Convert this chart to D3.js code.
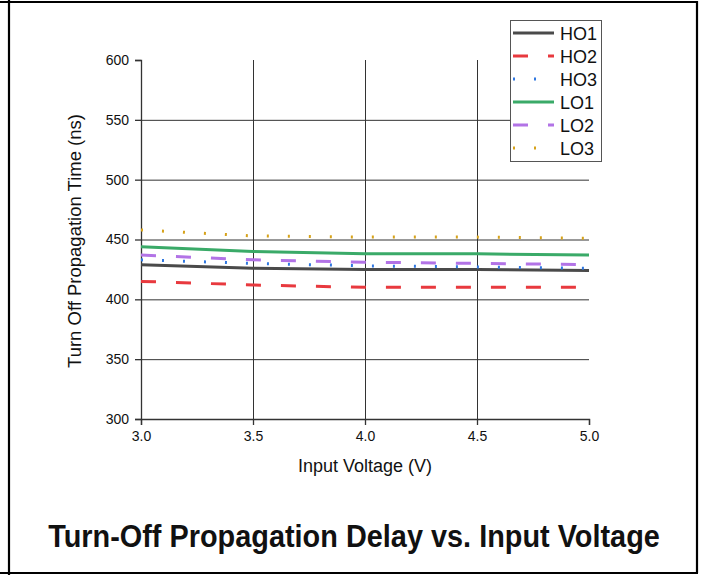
<!DOCTYPE html>
<html><head><meta charset="utf-8">
<script src="https://cdn.jsdelivr.net/npm/d3@7"></script>
<style>body{margin:0;background:#fff}svg{display:block}</style>
</head><body><svg id="c" width="701" height="575"></svg>
<script>
const voltages = [3.0, 3.5, 4.0, 4.5, 5.0];
const HO1 = [429, 426, 425, 425, 424];
const HO2 = [415, 412, 410, 410, 410];
const HO3 = [433, 430, 428, 427, 426];
const LO1 = [444, 440, 438, 438, 437];
const LO2 = [437, 433, 431, 430, 429];
const LO3 = [458, 453, 452, 452, 451];
const xTicks = [3.0, 3.5, 4.0, 4.5, 5.0];
const yTicks = [300, 350, 400, 450, 500, 550, 600];
const seriesNames = ["HO1", "HO2", "HO3", "LO1", "LO2", "LO3"];
const seriesValues = [HO1, HO2, HO3, LO1, LO2, LO3];
const styles = {
  HO1: {color: "#4a4a4a", dash: null, w: 3},
  HO2: {color: "#e8393e", dash: "15,20", w: 3},
  HO3: {color: "#2f77e0", dash: "2,19", w: 3},
  LO1: {color: "#3aaa68", dash: null, w: 3},
  LO2: {color: "#b273e6", dash: "15,20", w: 3},
  LO3: {color: "#d6a21a", dash: "2,19", w: 3}
};

const svg = d3.select("#c");
const font = "'Liberation Sans', Arial, sans-serif";
const x = d3.scaleLinear().domain([3, 5]).range([141, 589]);
const y = d3.scaleLinear().domain([300, 600]).range([419, 60]);

// frame
const fr = svg.append("g").attr("stroke", "#000").attr("stroke-width", 2.2);
fr.append("line").attr("x1", 0).attr("x2", 698).attr("y1", 2).attr("y2", 2);
fr.append("line").attr("x1", 9).attr("x2", 9).attr("y1", 0).attr("y2", 575);
fr.append("line").attr("x1", 697).attr("x2", 697).attr("y1", 1).attr("y2", 573);
fr.append("line").attr("x1", 0).attr("x2", 698).attr("y1", 573).attr("y2", 573);

// grid
const grid = svg.append("g").attr("stroke", "#333").attr("stroke-width", 1);
grid.selectAll(".gy").data(yTicks.filter(v => v > 300 && v < 600)).join("line")
  .attr("x1", x(3)).attr("x2", x(5)).attr("y1", d => y(d) + 0.5).attr("y2", d => y(d) + 0.5);
grid.selectAll(".gx").data(xTicks.filter(v => v > 3 && v < 5)).join("line")
  .attr("y1", y(600)).attr("y2", y(300)).attr("x1", d => x(d) + 0.5).attr("x2", d => x(d) + 0.5);

// axes
const xAxis = d3.axisBottom(x).tickValues(xTicks).tickFormat(d3.format(".1f")).tickSizeOuter(0).tickSize(6).tickPadding(6);
const yAxis = d3.axisLeft(y).tickValues(yTicks).tickSizeOuter(0).tickSize(6).tickPadding(6);
const gx = svg.append("g").attr("transform", `translate(0,${y(300)})`).call(xAxis);
const gy = svg.append("g").attr("transform", `translate(${x(3)},0)`).call(yAxis);
[gx, gy].forEach(g => {
  g.attr("font-size", null).attr("font-family", null);
  g.select(".domain").attr("stroke", "#333").attr("stroke-width", 1.3);
  g.selectAll(".tick line").attr("stroke", "#333").attr("stroke-width", 1.3);
  g.selectAll("text").attr("fill", "#111").style("font-family", font).style("font-size", "14px");
});

// lines
const line = d3.line().x((d, i) => x(voltages[i])).y(d => y(d));
seriesNames.forEach((n, k) => {
  const s = styles[n];
  svg.append("path").datum(seriesValues[k]).attr("d", line)
    .attr("fill", "none").attr("stroke", s.color).attr("stroke-width", s.w)
    .attr("stroke-dasharray", s.dash);
});

// axis titles
svg.append("text").attr("x", 365).attr("y", 472).attr("text-anchor", "middle")
  .style("font-family", font).style("font-size", "18px").attr("fill", "#111").text("Input Voltage (V)");
svg.append("text").attr("transform", "translate(81,241) rotate(-90)").attr("text-anchor", "middle")
  .style("font-family", font).style("font-size", "18.5px").attr("fill", "#111").text("Turn Off Propagation Time (ns)");

// legend
const lg = svg.append("g");
lg.append("rect").attr("x", 510.5).attr("y", 20.5).attr("width", 91).attr("height", 141)
  .attr("fill", "#fff").attr("stroke", "#555").attr("stroke-width", 1);
seriesNames.forEach((n, k) => {
  const s = styles[n];
  const yy = 33 + k * 23;
  lg.append("line").attr("x1", 513).attr("x2", 554).attr("y1", yy).attr("y2", yy)
    .attr("stroke", s.color).attr("stroke-width", s.w).attr("stroke-dasharray", s.dash);
  lg.append("text").attr("x", 560).attr("y", yy + 6.5).style("font-family", font)
    .style("font-size", "18px").attr("fill", "#111").text(n);
});

// title (horizontally condensed via transform)
const tg = svg.append("g");
const tt = tg.append("text").attr("x", 0).attr("y", 0).attr("text-anchor", "middle")
  .style("font-family", font).style("font-weight", "bold").style("font-size", "32px")
  .attr("fill", "#111").text("Turn-Off Propagation Delay vs. Input Voltage");
const natural = tt.node().getComputedTextLength();
tg.attr("transform", `translate(354,547) scale(${612 / natural},1)`);
</script></body></html>
